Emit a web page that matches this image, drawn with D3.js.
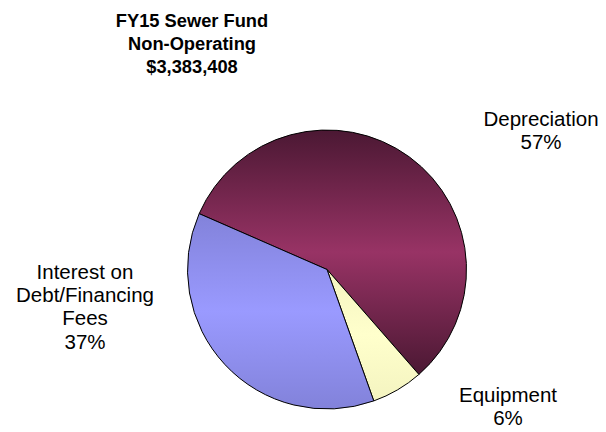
<!DOCTYPE html>
<html>
<head>
<meta charset="utf-8">
<script src="https://cdn.jsdelivr.net/npm/d3@7/dist/d3.min.js"></script>
<style>
  html, body { margin: 0; padding: 0; background: #ffffff; }
  svg { display: block; }
  text { font-family: "Liberation Sans", Arial, sans-serif; fill: #000; }
</style>
</head>
<body>
<svg id="chart" width="606" height="432"></svg>
<script>
// Slice data: FY15 Sewer Fund non-operating expenses (share of total, %)
const categories = ["Depreciation", "Equipment", "Interest on Debt/Financing Fees"];
const shares = [57, 6, 37];
const sliceLabels = [["Depreciation", "57%"], ["Equipment", "6%"], ["Interest on", "Debt/Financing", "Fees", "37%"]];
const titleLines = ["FY15 Sewer Fund", "Non-Operating", "$3,383,408"];

const width = 606, height = 432;
const cx = 327, cy = 269.5, radius = 139.5;
const startDeg = -66.4;

// Edge/centre colours for each slice's vertical gradient
const gradEdge = ["#4b1833", "#f4f4c0", "#8282da"];
const gradMid = ["#983365", "#ffffcc", "#9a9aff"];

const svg = d3.select("#chart");
const defs = svg.append("defs");

categories.forEach((c, i) => {
  const g = defs.append("linearGradient")
    .attr("id", "grad" + i)
    .attr("x1", 0).attr("y1", 0).attr("x2", 0).attr("y2", 1);
  g.append("stop").attr("offset", "0%").attr("stop-color", gradEdge[i]);
  g.append("stop").attr("offset", "50%").attr("stop-color", gradMid[i]);
  g.append("stop").attr("offset", "100%").attr("stop-color", gradEdge[i]);
});

const start = startDeg * Math.PI / 180;
const pie = d3.pie()
  .sort(null)
  .startAngle(start)
  .endAngle(start + 2 * Math.PI)
  .value(d => d);

const arc = d3.arc().innerRadius(0).outerRadius(radius);

const arcs = pie(shares);

svg.append("g")
  .attr("transform", `translate(${cx},${cy})`)
  .selectAll("path")
  .data(arcs)
  .join("path")
  .attr("d", arc)
  .attr("fill", (d, i) => `url(#grad${i})`)
  .attr("stroke", "#000")
  .attr("stroke-width", 1)
  .attr("stroke-linejoin", "round");

// Title
const title = svg.append("text")
  .attr("text-anchor", "middle")
  .attr("font-size", 18.3)
  .attr("font-weight", "bold");
titleLines.forEach((t, i) => {
  title.append("tspan").attr("x", 192).attr("y", 26.5 + i * 23).text(t);
});

// Slice labels
const labelPos = [
  { x: 541, y: 125.5 },
  { x: 508, y: 402 },
  { x: 85, y: 279 }
];
const lineGap = 23.2;

sliceLabels.forEach((lines, i) => {
  const t = svg.append("text")
    .attr("text-anchor", "middle")
    .attr("font-size", 20.5);
  lines.forEach((l, j) => {
    t.append("tspan").attr("x", labelPos[i].x).attr("y", labelPos[i].y + j * lineGap).text(l);
  });
});
</script>
</body>
</html>
